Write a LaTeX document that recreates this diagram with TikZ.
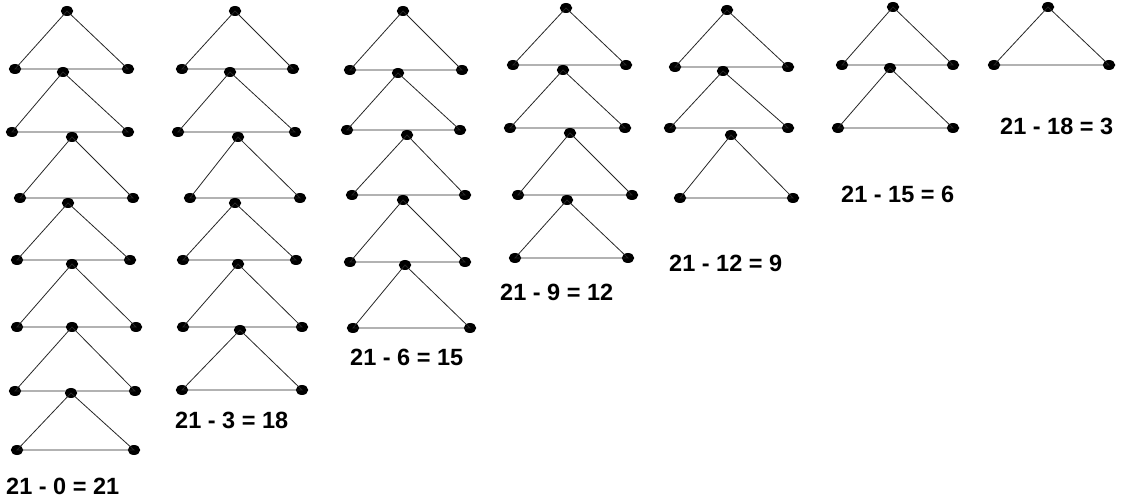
\documentclass[tikz,border=0pt]{standalone}
\usepackage{fontspec}
\setmainfont{Liberation Sans}
\usetikzlibrary{shapes.geometric}
\tikzset{
  vdot/.style={ellipse, fill=black, draw=none, minimum width=12.5pt, minimum height=10pt, inner sep=0pt},
  edge/.style={draw=black!85, line width=0.8pt},
  eqlabel/.style={anchor=west, inner sep=0pt, font=\fontsize{23.5}{27}\bfseries\selectfont}
}
\begin{document}
\begin{tikzpicture}[x=1pt,y=-1pt]
\useasboundingbox (0,0) rectangle (1122,502);
% name / apex / left / right
\foreach \n/\ax/\ay/\lx/\ly/\rx/\ry in {
  a1/67/11/15/69/128/69,
  a2/63/72/12/132/128/132,
  a3/72/137/20/198/133/198,
  a4/68/203/17/260/130/260,
  a5/72/264/17/327/136/327,
  a6/72/327/15/391/135/391,
  a7/71/393/17/450/134/450,
  b1/235/11/182/69/293/69,
  b2/230/72/178/132/295/132,
  b3/238/137/190/198/300/198,
  b4/235/203/183/260/296/260,
  b5/238/264/183/327/302/327,
  b6/240/330/182/390/302/390,
  c1/403/11/350/70/462/70,
  c2/398/73/347/130/460/130,
  c3/407/135/352/195/465/195,
  c4/403/200/350/262/465/262,
  c5/405/265/353/328/470/328,
  d1/566/8/513/65/626/65,
  d2/563/70/510/128/625/128,
  d3/570/133/518/195/632/195,
  d4/567/200/515/258/628/258,
  e1/727/10/675/67/788/67,
  e2/723/71/670/128/788/128,
  e3/731/135/680/198/793/198,
  f1/893/7/842/65/953/65,
  f2/890/68/838/128/953/128,
  g1/1048/7/994/65/1109/65}
{
  \node[vdot] (\n t) at (\ax,\ay) {};
  \node[vdot] (\n l) at (\lx,\ly) {};
  \node[vdot] (\n r) at (\rx,\ry) {};
  \draw[edge] (\n t.center) -- (\n l.center) -- (\n r.center) -- cycle;
}
\node[eqlabel] (l0) at (6,486) {21 - 0 = 21};
\node[eqlabel] (l3) at (175,420) {21 - 3 = 18};
\node[eqlabel] (l6) at (350,357) {21 - 6 = 15};
\node[eqlabel] (l9) at (500,292) {21 - 9 = 12};
\node[eqlabel] (l12) at (669,263) {21 - 12 = 9};
\node[eqlabel] (l15) at (841,194) {21 - 15 = 6};
\node[eqlabel] (l18) at (1000,126) {21 - 18 = 3};
\end{tikzpicture}
\end{document}
